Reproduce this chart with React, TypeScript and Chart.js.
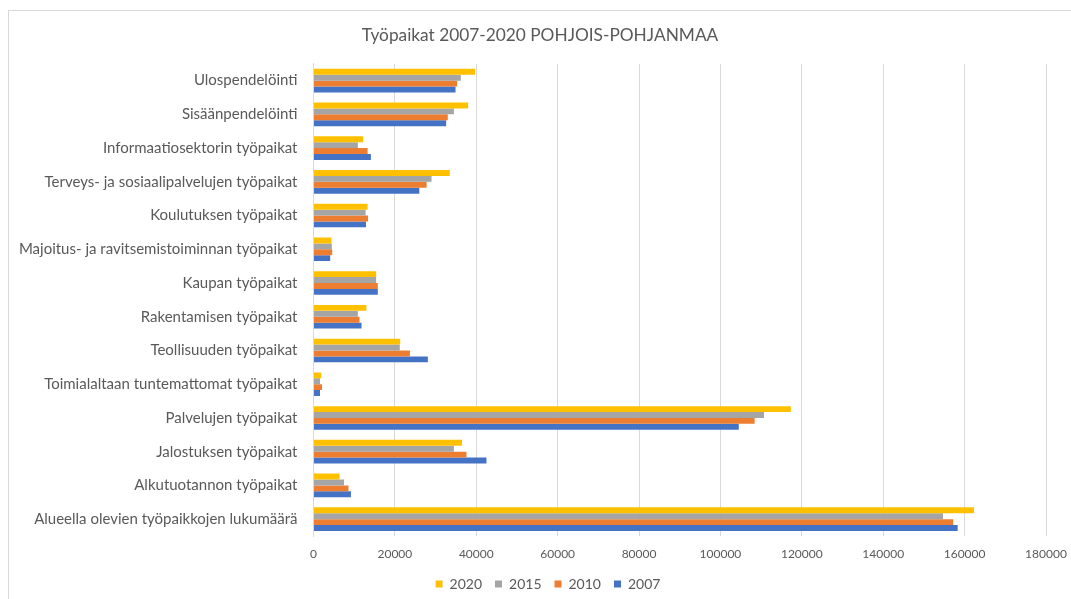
import React, { useEffect, useRef } from "react";
import { Chart, registerables } from "chart.js";

Chart.register(...registerables);

const TITLE = "Työpaikat 2007-2020 POHJOIS-POHJANMAA";

const categories = [
  "Ulospendelöinti",
  "Sisäänpendelöinti",
  "Informaatiosektorin työpaikat",
  "Terveys- ja sosiaalipalvelujen työpaikat",
  "Koulutuksen työpaikat",
  "Majoitus- ja ravitsemistoiminnan työpaikat",
  "Kaupan työpaikat",
  "Rakentamisen työpaikat",
  "Teollisuuden työpaikat",
  "Toimialaltaan tuntemattomat työpaikat",
  "Palvelujen työpaikat",
  "Jalostuksen työpaikat",
  "Alkutuotannon työpaikat",
  "Alueella olevien työpaikkojen lukumäärä",
];

const values2020 = [39700, 38000, 12200, 33500, 13300, 4400, 15400, 13000, 21300, 1900, 117300, 36500, 6400, 162300];
const values2015 = [36200, 34500, 10900, 29000, 12800, 4500, 15400, 10900, 21200, 1600, 110700, 34500, 7500, 154700];
const values2010 = [35300, 33000, 13300, 27800, 13400, 4600, 15800, 11300, 23700, 2100, 108400, 37600, 8600, 157200];
const values2007 = [34900, 32600, 14100, 26000, 12900, 4100, 15800, 11800, 28100, 1600, 104500, 42500, 9200, 158300];

const seriesNames = ["2020", "2015", "2010", "2007"];
const seriesColors = ["#FFC000", "#A5A5A5", "#ED7D31", "#4472C4"];

const xMin = 0;
const xMax = 180000;
const xStep = 20000;

const FONT = "Lato, 'Liberation Sans', sans-serif";
const TEXT = "#595959";

const legendShift = {
  id: "legendShift",
  afterLayout(chart: any) {
    if (chart.legend) {
      chart.legend.left += 16;
    }
  },
};

export default function App() {
  const canvasRef = useRef<HTMLCanvasElement | null>(null);

  useEffect(() => {
    document.documentElement.style.overflow = "hidden";
    document.body.style.overflow = "hidden";
    const canvas = canvasRef.current;
    if (!canvas) return;
    const allValues = [values2020, values2015, values2010, values2007];
    const chart = new Chart(canvas, {
      type: "bar",
      data: {
        labels: categories,
        datasets: seriesNames.map((name, i) => ({
          label: name,
          data: allValues[i],
          backgroundColor: seriesColors[i],
          borderWidth: 0,
          categoryPercentage: 0.7,
          barPercentage: 1.0,
        })),
      },
      plugins: [legendShift],
      options: {
        indexAxis: "y",
        responsive: false,
        animation: false,
        devicePixelRatio: 1,
        layout: { padding: { left: 0, right: 0, top: 0, bottom: 10 } },
        plugins: {
          title: {
            display: true,
            text: TITLE,
            color: TEXT,
            font: { family: FONT, size: 17.3, weight: "normal" },
            padding: { top: 14, bottom: 18 },
          },
          legend: {
            display: true,
            position: "bottom",
            labels: {
              color: TEXT,
              font: { family: FONT, size: 14 },
              boxWidth: 7,
              boxHeight: 7,
              padding: 13,
            },
          },
          tooltip: { enabled: false },
        },
        scales: {
          x: {
            type: "linear",
            min: xMin,
            max: xMax,
            grid: { color: "#d9d9d9", lineWidth: 1, drawTicks: false },
            border: { display: false },
            ticks: {
              stepSize: xStep,
              color: TEXT,
              font: { family: FONT, size: 12 },
              padding: 11,
              maxRotation: 0,
              callback: (v: any) => String(v),
            },
            afterFit: (scale: any) => {
              scale.height = 28;
              scale.paddingRight = 25;
            },
          },
          y: {
            type: "category",
            grid: { display: false, drawTicks: false },
            border: { display: true, color: "#d9d9d9", width: 1 },
            ticks: {
              color: TEXT,
              font: { family: FONT, size: 15 },
              padding: 16,
              autoSkip: false,
            },
            afterFit: (scale: any) => {
              scale.width = 304.5;
            },
          },
        },
      },
    });
    return () => chart.destroy();
  }, []);

  return (
    <div
      style={{
        position: "fixed",
        left: 8,
        top: 10,
        width: 1063,
        height: 589,
        boxSizing: "border-box",
        borderTop: "1px solid #d9d9d9",
        borderLeft: "1px solid #d9d9d9",
        overflow: "hidden",
        background: "#fff",
      }}
    >
      <canvas
        ref={canvasRef}
        width={1062}
        height={600}
        style={{ display: "block", width: 1062, height: 600 }}
      />
    </div>
  );
}
